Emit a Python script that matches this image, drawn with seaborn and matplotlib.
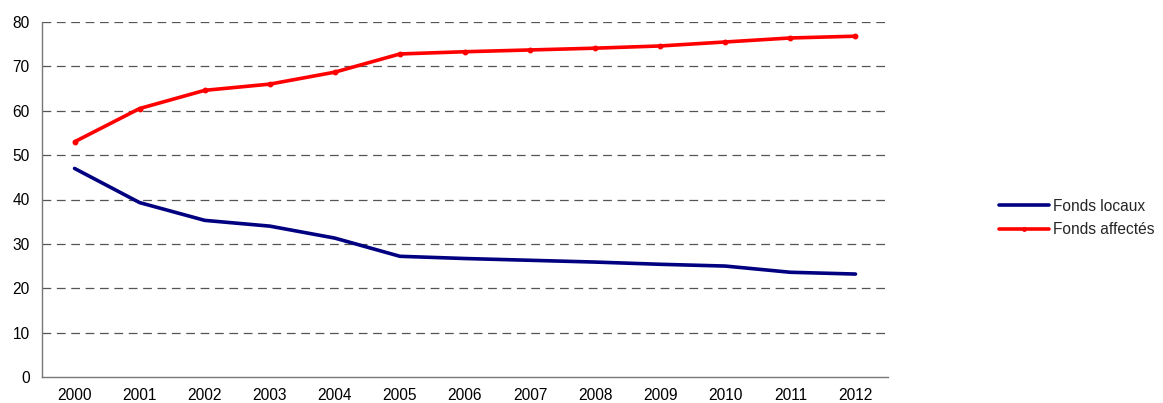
import matplotlib
matplotlib.use("Agg")
import matplotlib.pyplot as plt
import numpy as np
import pandas as pd
import seaborn as sns

years = ["2000", "2001", "2002", "2003", "2004", "2005", "2006",
         "2007", "2008", "2009", "2010", "2011", "2012"]
fonds_locaux = [47.0, 39.3, 35.3, 34.0, 31.3, 27.2, 26.7, 26.3, 25.9, 25.4, 25.0, 23.6, 23.2]
fonds_affectes = [53.0, 60.5, 64.6, 66.0, 68.7, 72.8, 73.3, 73.7, 74.1, 74.6, 75.5, 76.4, 76.8]
y_ticks = [0, 10, 20, 30, 40, 50, 60, 70, 80]

sns.set_theme(style="white")
plt.rcParams["font.family"] = ["Liberation Sans", "DejaVu Sans"]

pos = np.arange(len(years))
df = pd.DataFrame({
    "pos": np.concatenate([pos, pos]),
    "valeur": fonds_locaux + fonds_affectes,
    "serie": ["Fonds locaux"] * len(years) + ["Fonds affectés"] * len(years),
})

fig = plt.figure(figsize=(11.63, 4.03), dpi=100)
ax = fig.add_axes([42 / 1163, 1 - 377 / 403, (888 - 42) / 1163, (377 - 22) / 403])

palette = {"Fonds locaux": "#000080", "Fonds affectés": "#FF0000"}
sns.lineplot(data=df, x="pos", y="valeur", hue="serie", palette=palette,
             linewidth=2.6, ax=ax, legend=False)
# small dot markers on the red series
ax.plot(pos, fonds_affectes, linestyle="none", marker="o", markersize=3.2,
        color="#FF0000")

ax.set_xlim(-0.5, len(years) - 0.5)
ax.set_ylim(0, 80)
ax.set_yticks(y_ticks)
ax.set_yticklabels([str(v) for v in y_ticks])
ax.set_xticks(pos)
ax.set_xticklabels(years)
ax.set_xticks(np.arange(-0.5, len(years)), minor=True)
ax.set_xlabel("")
ax.set_ylabel("")

ax.tick_params(axis="x", which="major", length=0, pad=8, labelsize=11.2, colors="#000000")
ax.tick_params(axis="x", which="minor", length=5, width=1, color="#555555", direction="out")
ax.tick_params(axis="y", which="major", length=5, width=1, color="#555555",
               direction="out", pad=4, labelsize=11.2, labelcolor="#000000")

for y in y_ticks[1:]:
    ax.axhline(y, color="#555555", linestyle=(0, (7, 4.5)), linewidth=0.9, zorder=0)

for side in ["top", "right"]:
    ax.spines[side].set_visible(False)
for side in ["left", "bottom"]:
    ax.spines[side].set_color("#777777")
    ax.spines[side].set_linewidth(1.0)

# legend at the right of the plot area
handles = [
    matplotlib.lines.Line2D([], [], color="#000080", linewidth=2.6),
    matplotlib.lines.Line2D([], [], color="#FF0000", linewidth=2.6,
                            marker="o", markersize=2.5, markevery=[1]),
]
fig.legend(handles, ["Fonds locaux", "Fonds affectés"],
           loc="center left", bbox_to_anchor=(999 / 1163, 1 - 218 / 403),
           frameon=False, fontsize=11.2, handlelength=3.2, handletextpad=0.25,
           labelspacing=0.55, borderaxespad=0, borderpad=0)

fig.savefig("out.png", dpi=100)
